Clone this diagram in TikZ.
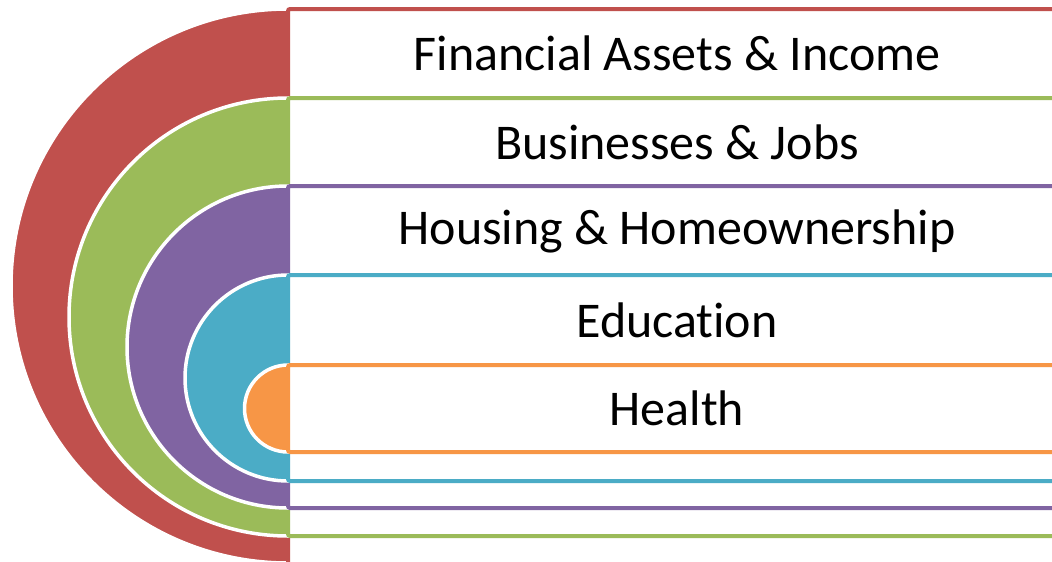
\documentclass[tikz,border=0pt]{standalone}
\usepackage{fontspec}
\setmainfont{Carlito}[Ligatures=NoCommon]
\usetikzlibrary{positioning}

\definecolor{ringred}{HTML}{C0504D}
\definecolor{ringgreen}{HTML}{9BBB59}
\definecolor{ringpurple}{HTML}{8064A2}
\definecolor{ringblue}{HTML}{4BACC6}
\definecolor{ringorange}{HTML}{F79646}

\begin{document}
\begin{tikzpicture}[
    x=1pt, y=-1pt,
    ring/.style={draw=white, line width=3.5pt},
    band/.style={fill=white, line width=4pt, rounded corners=2pt},
    label/.style={font=\fontsize{50}{60}\selectfont, inner sep=0pt}
  ]
  \useasboundingbox (0,0) rectangle (1052,562);

  % outermost level first, each one covers the lower part of the last
  \filldraw[ring, fill=ringred] (288,563) arc[start angle=90, end angle=270, radius=277] -- cycle;
  \draw[band, draw=ringred] (288,9) rectangle (1066,570);

  \filldraw[ring, fill=ringgreen] (288,536) arc[start angle=90, end angle=270, radius=219] -- cycle;
  \draw[band, draw=ringgreen] (288,98) rectangle (1066,536);

  \filldraw[ring, fill=ringpurple] (288,508) arc[start angle=90, end angle=270, radius=161] -- cycle;
  \draw[band, draw=ringpurple] (288,186) rectangle (1066,508);

  \filldraw[ring, fill=ringblue] (288,481) arc[start angle=90, end angle=270, radius=103] -- cycle;
  \draw[band, draw=ringblue] (288,275) rectangle (1066,481);

  \filldraw[ring, fill=ringorange] (288,452) arc[start angle=90, end angle=270, radius=43.5] -- cycle;
  \draw[band, draw=ringorange] (288,365) rectangle (1066,452);

  \node[label] (assets) at (677,53.5) {Financial Assets \& Income};
  \node[label] (jobs) at (677,142) {Businesses \& Jobs};
  \node[label] (housing) at (677,231) {Housing \& Homeownership};
  \node[label] (education) at (677,320) {Education};
  \node[label] (health) at (677,408.5) {Health};
\end{tikzpicture}
\end{document}
